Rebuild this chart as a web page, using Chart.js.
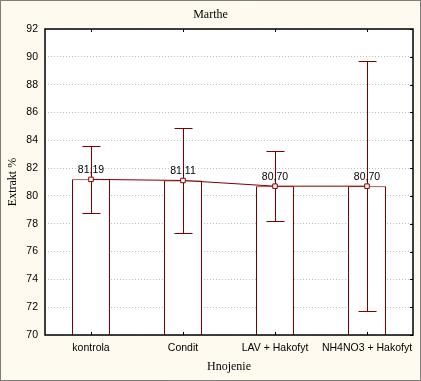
<!DOCTYPE html>
<html>
<head>
<meta charset="utf-8">
<script src="https://cdn.jsdelivr.net/npm/chart.js@4/dist/chart.umd.min.js"></script>
<style>
  html, body { margin: 0; padding: 0; background: #FFFAEF; }
  #wrap { width: 421px; height: 381px; position: relative; }
</style>
</head>
<body>
<div id="wrap"><canvas id="c" width="421" height="381"></canvas></div>
<script>
// ---- data ----
const categories = ["kontrola", "Condit", "LAV + Hakofyt", "NH4NO3 + Hakofyt"];
const means = [81.19, 81.11, 80.70, 80.70];
const upper = [83.60, 84.90, 83.20, 89.68];
const lower = [78.78, 77.31, 78.20, 71.70];
const meanLabels = ["81,19", "81,11", "80,70", "80,70"];
const yTicks = [70, 72, 74, 76, 78, 80, 82, 84, 86, 88, 90, 92];
const chartTitle = "Marthe";
const xTitle = "Hnojenie";
const yTitle = "Extrakt %";

const RED = "#800000";
const BG = "#FFFAEF";
const SANS = "'Liberation Sans', Arial, sans-serif";
const SERIF = "'Liberation Serif', 'Times New Roman', serif";

const decor = {
  id: "decor",
  beforeDraw(chart) {
    const ctx = chart.ctx;
    const { left, top, right, bottom } = chart.chartArea;
    ctx.save();
    ctx.fillStyle = BG;
    ctx.fillRect(0, 0, chart.width, chart.height);
    ctx.strokeStyle = "#000";
    ctx.lineWidth = 1;
    ctx.setLineDash([1, 1]);
    ctx.strokeRect(0.5, 0.5, chart.width - 1, chart.height - 1);
    ctx.setLineDash([]);
    ctx.fillStyle = "#FFFFFF";
    ctx.fillRect(left, top, right - left, bottom - top);
    ctx.restore();
  },
  afterDatasetDraw(chart, args) {
    if (args.index !== 0) return;
    const ctx = chart.ctx;
    const x = chart.scales.x, y = chart.scales.y;
    ctx.save();
    ctx.strokeStyle = RED;
    ctx.lineWidth = 1;
    for (let i = 0; i < categories.length; i++) {
      const px = Math.round(x.getPixelForValue(i)) + 0.5;
      const pu = Math.round(y.getPixelForValue(upper[i])) + 0.5;
      const pl = Math.round(y.getPixelForValue(lower[i])) + 0.5;
      ctx.beginPath();
      ctx.moveTo(px, pu); ctx.lineTo(px, pl);
      ctx.moveTo(px - 9, pu); ctx.lineTo(px + 9, pu);
      ctx.moveTo(px - 9, pl); ctx.lineTo(px + 9, pl);
      ctx.stroke();
    }
    ctx.restore();
  },
  afterDatasetsDraw(chart) {
    const ctx = chart.ctx;
    const { left, top, right, bottom } = chart.chartArea;
    const x = chart.scales.x, y = chart.scales.y;
    ctx.save();
    // frame
    ctx.strokeStyle = "#000";
    ctx.lineWidth = 1.5;
    ctx.strokeRect(left, top, right - left, bottom - top);
    ctx.lineWidth = 1;
    ctx.beginPath();
    // inward ticks on right axis
    yTicks.forEach(v => {
      const py = Math.round(y.getPixelForValue(v)) + 0.5;
      ctx.moveTo(right - 3, py); ctx.lineTo(right, py);
    });
    // inward ticks on top and bottom axes at category centres
    for (let i = 0; i < categories.length; i++) {
      const px = Math.round(x.getPixelForValue(i)) + 0.5;
      ctx.moveTo(px, top); ctx.lineTo(px, top + 3);
      ctx.moveTo(px, bottom); ctx.lineTo(px, bottom - 3);
    }
    ctx.stroke();
    // mean labels
    ctx.fillStyle = "#000";
    ctx.font = "10.5px " + SANS;
    ctx.textAlign = "center";
    ctx.textBaseline = "bottom";
    for (let i = 0; i < categories.length; i++) {
      const px = x.getPixelForValue(i);
      const py = y.getPixelForValue(means[i]);
      ctx.fillText(meanLabels[i], px, py - 4);
    }
    // titles
    ctx.font = "12px " + SERIF;
    ctx.textBaseline = "middle";
    ctx.fillText(chartTitle, chart.width / 2, 15);
    ctx.fillText(xTitle, (left + right) / 2, 367);
    ctx.translate(13, (top + bottom) / 2);
    ctx.rotate(-Math.PI / 2);
    ctx.fillText(yTitle, 0, 0);
    ctx.restore();
  }
};

new Chart(document.getElementById("c"), {
  data: {
    labels: categories,
    datasets: [
      {
        type: "bar",
        data: means,
        backgroundColor: "#FFFFFF",
        borderColor: RED,
        borderWidth: 1,
        barThickness: 38,
        inflateAmount: 0,
        order: 2
      },
      {
        type: "line",
        data: means,
        borderColor: RED,
        borderWidth: 1,
        pointStyle: "rect",
        pointRadius: 3.2,
        pointBackgroundColor: "#FFFFFF",
        pointBorderColor: RED,
        pointBorderWidth: 1,
        tension: 0,
        order: 1
      }
    ]
  },
  options: {
    responsive: false,
    animation: false,
    devicePixelRatio: 1,
    layout: { padding: { left: 0, top: 29, right: 8, bottom: 0 } },
    plugins: { legend: { display: false }, tooltip: { enabled: false } },
    scales: {
      x: {
        type: "category",
        offset: true,
        grid: { display: false, drawTicks: false },
        border: { display: false },
        ticks: { color: "#000", font: { family: SANS, size: 10.5 }, padding: 7, maxRotation: 0, autoSkip: false },
        afterFit(s) { s.height = 46; }
      },
      y: {
        min: 70, max: 92,
        afterBuildTicks(s) { s.ticks = yTicks.map(v => ({ value: v })); },
        grid: { color: "#C0C0C0", lineWidth: 1, drawTicks: false },
        border: { display: false, dash: [1, 2] },
        ticks: { color: "#000", font: { family: SANS, size: 10.5 }, padding: 7 },
        afterFit(s) { s.width = 45; }
      }
    }
  },
  plugins: [decor]
});
</script>
</body>
</html>
